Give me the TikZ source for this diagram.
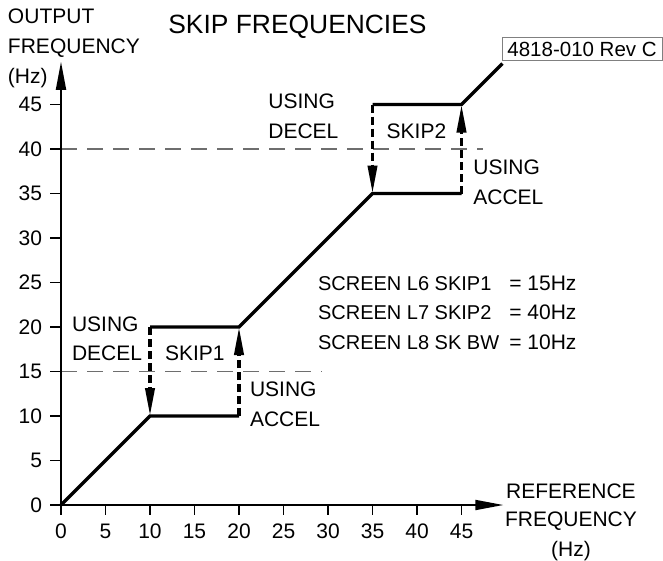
\documentclass[tikz,border=0pt]{standalone}
\usepackage{fontspec}
\setmainfont{Liberation Sans}
\usetikzlibrary{arrows.meta}
\definecolor{guidegray}{HTML}{6E6E6E}
\definecolor{framegray}{HTML}{808080}
\begin{document}
\begin{tikzpicture}[x=4.45pt,y=4.45pt,
  lbl/.style={font=\fontsize{10.5}{12}\selectfont, inner sep=0pt, outer sep=0pt},
  note/.style={lbl, anchor=base west},
  setting/.style={note, font=\fontsize{10}{12}\selectfont},
  axisline/.style={line width=0.9pt, -{Triangle[length=14pt,width=5pt]}},
  tickmark/.style={line width=0.8pt},
  curve/.style={line width=1.65pt, line join=miter},
  jump/.style={line width=1.65pt, dash pattern=on 4pt off 2pt,
               -{Triangle[length=14pt,width=4.6pt]}},
  guide/.style={draw=guidegray, line width=0.65pt, dash pattern=on 8pt off 5pt}]
\useasboundingbox (-6.854,-6.180) rectangle (67.64,56.742);

% reference points
\coordinate (o)    at (0,0);
\coordinate (xtip) at (49.7,0);
\coordinate (ytip) at (0,49.8);
\coordinate (a1) at (10,10);
\coordinate (a2) at (20,10);
\coordinate (b1) at (10,20);
\coordinate (b2) at (20,20);
\coordinate (c1) at (35,35);
\coordinate (c2) at (45,35);
\coordinate (d1) at (35,45);
\coordinate (d2) at (45,45);
\coordinate (e)  at (49.6,49.6);
\coordinate (y15) at (0,15);
\coordinate (h15) at (29.3,15);
\coordinate (y40) at (0,40);
\coordinate (h40) at (47.4,40);

% skip-level guide lines
\draw[guide] (y15) -- (h15);
\draw[guide] (y40) -- (h40);

% axes with ticks and numbers
\draw[axisline] (o) -- (xtip);
\draw[axisline] (o) -- (ytip);
\foreach \v in {0,5,...,45} {
  \draw[tickmark] (\v,0) -- (\v,-1.124);
  \node[lbl] (xl\v) at (\v,-2.92) {\v};
  \draw[tickmark] (0,\v) -- (-1.236,\v);
  \node[lbl, anchor=east] (yl\v) at (-2.135,\v) {\v};
}

% output vs reference characteristic
\draw[curve] (o) -- (a1) -- (a2);
\draw[curve] (b1) -- (b2) -- (c1) -- (c2);
\draw[curve] (d1) -- (d2) -- (e);

% jumps across the skip bands
\draw[jump] (b1) -- (a1);
\draw[jump] (a2) -- (b2);
\draw[jump] (d1) -- (c1);
\draw[jump] (c2) -- (d2);

% title and axis names
\node[lbl, font=\fontsize{13.2}{15}\selectfont, anchor=base] (title) at (26.57,53.0) {SKIP FREQUENCIES};
\node[note] (yname1) at (-5.955,54.12) {OUTPUT};
\node[note] (yname2) at (-5.955,50.73) {FREQUENCY};
\node[note] (yname3) at (-5.955,47.36) {(Hz)};
\node[lbl, anchor=base] (xname1) at (57.30,0.75) {REFERENCE};
\node[lbl, anchor=base] (xname2) at (57.30,-2.44) {FREQUENCY};
\node[lbl, anchor=base] (xname3) at (57.30,-5.73) {(Hz)};

% band annotations
\node[note] (dec1a) at (1.236,19.47) {USING};
\node[note] (dec1b) at (1.236,16.29) {DECEL};
\node[note] (skip1) at (11.69,16.29) {SKIP1};
\node[note] (acc1a) at (21.24,12.17) {USING};
\node[note] (acc1b) at (21.24,8.80) {ACCEL};
\node[note] (dec2a) at (23.30,44.57) {USING};
\node[note] (dec2b) at (23.30,41.20) {DECEL};
\node[note] (skip2) at (36.59,41.20) {SKIP2};
\node[note] (acc2a) at (46.33,37.08) {USING};
\node[note] (acc2b) at (46.33,33.71) {ACCEL};

% parameter settings
\node[setting] (set1) at (28.88,24.08) {SCREEN L6 SKIP1};
\node[setting] (set2) at (28.88,20.79) {SCREEN L7 SKIP2};
\node[setting] (set3) at (28.88,17.42) {SCREEN L8 SK BW};
\node[note] (val1) at (50.38,24.08) {= 15Hz};
\node[note] (val2) at (50.38,20.79) {= 40Hz};
\node[note] (val3) at (50.38,17.42) {= 10Hz};

% drawing number
\node[draw=framegray, line width=0.5pt, anchor=north west,
      font=\fontsize{10.25}{12}\selectfont,
      inner xsep=2.65pt, inner ysep=0pt, text height=9.7pt, text depth=2pt]
      (docid) at (49.51,52.61) {\makebox[74.85pt][l]{4818-010 Rev C}};
\end{tikzpicture}
\end{document}
